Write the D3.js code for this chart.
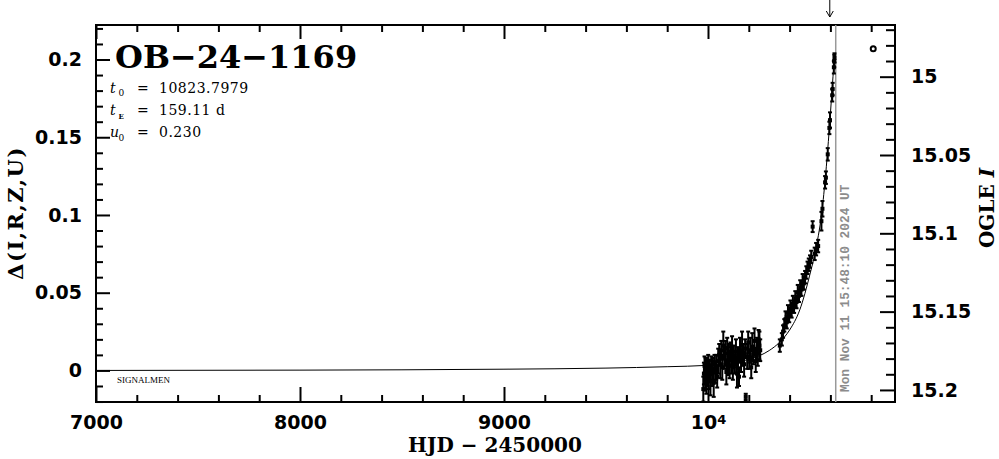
<!DOCTYPE html>
<html><head><meta charset="utf-8">
<script src="https://cdn.jsdelivr.net/npm/d3@7"></script>
<style>body{margin:0;background:#fff}svg{display:block}</style>
</head><body><svg id="c" width="999" height="459"></svg>
<script>
// ---- data ----
const hjd2023 = [9977, 9980, 9983, 9986, 9989, 9992, 9995, 9998, 10001, 10004, 10008, 10012, 10016, 10020, 10024, 10028, 10032, 10036, 10040, 10045, 10050, 10055, 10060, 10065, 10070, 10075, 10080, 10085, 10090, 10094, 10098, 10102, 10106, 10110, 10114, 10118, 10122, 10127, 10132, 10137, 10142, 10147, 10152, 10157, 10162, 10167, 10172, 10177, 10182, 10185, 10192, 10197, 10202, 10207, 10212, 10217, 10222, 10228, 10234, 10240, 10244, 10248, 10252, 10256];
const delta2023 = [-0.012, -0.002, 0.003, -0.005, 0.001, -0.006, 0.002, -0.003, 0.004, -0.004, 0.000, -0.007, 0.003, -0.002, 0.001, -0.008, 0.004, -0.001, 0.002, -0.004, 0.006, 0.010, 0.004, 0.013, 0.002, 0.016, 0.008, 0.011, -0.001, 0.014, 0.006, 0.010, 0.003, 0.012, 0.007, 0.015, 0.002, 0.009, 0.004, 0.012, -0.002, 0.008, -0.004, 0.013, 0.006, 0.016, 0.010, 0.004, 0.014, -0.017, 0.009, 0.018, 0.007, 0.013, 0.002, 0.015, 0.010, 0.019, 0.006, 0.014, 0.011, 0.020, 0.016, 0.013];
const err2023 = [0.008, 0.007, 0.006, 0.008, 0.007, 0.009, 0.006, 0.007, 0.006, 0.008, 0.007, 0.009, 0.006, 0.008, 0.007, 0.009, 0.006, 0.007, 0.008, 0.007, 0.008, 0.007, 0.009, 0.006, 0.008, 0.009, 0.007, 0.008, 0.008, 0.007, 0.009, 0.007, 0.008, 0.006, 0.009, 0.007, 0.008, 0.007, 0.006, 0.008, 0.009, 0.007, 0.006, 0.008, 0.007, 0.009, 0.007, 0.008, 0.006, 0.002, 0.008, 0.007, 0.006, 0.008, 0.007, 0.009, 0.006, 0.008, 0.007, 0.007, 0.008, 0.006, 0.009, 0.007];
const hjd2024 = [10352, 10362, 10368, 10374, 10380, 10386, 10392, 10398, 10404, 10410, 10416, 10422, 10428, 10434, 10440, 10446, 10452, 10458, 10464, 10470, 10476, 10482, 10488, 10494, 10500, 10506, 10513, 10523, 10530, 10540, 10556, 10561, 10574, 10578, 10587, 10595, 10598, 10609, 10611, 10617, 10619, 10620];
const delta2024 = [0.016, 0.020, 0.025, 0.029, 0.033, 0.031, 0.037, 0.035, 0.040, 0.038, 0.043, 0.041, 0.046, 0.044, 0.050, 0.048, 0.053, 0.052, 0.057, 0.056, 0.060, 0.063, 0.066, 0.068, 0.070, 0.073, 0.0925, 0.075, 0.078, 0.080, 0.096, 0.104, 0.121, 0.124, 0.139, 0.156, 0.161, 0.177, 0.181, 0.195, 0.199, 0.201];
const err2024 = [0.004, 0.004, 0.004, 0.004, 0.005, 0.004, 0.005, 0.004, 0.005, 0.004, 0.005, 0.004, 0.005, 0.004, 0.005, 0.004, 0.005, 0.004, 0.005, 0.004, 0.004, 0.004, 0.004, 0.004, 0.004, 0.004, 0.0035, 0.004, 0.004, 0.004, 0.006, 0.005, 0.004, 0.004, 0.004, 0.004, 0.005, 0.004, 0.004, 0.004, 0.004, 0.003];
const modelHjd = [7000, 8000, 9000, 9500, 9800, 10000, 10100, 10200, 10300, 10350, 10400, 10450, 10500, 10530, 10560, 10580, 10600, 10610, 10621];
const modelDelta = [0.0, 0.0002, 0.0008, 0.0015, 0.0024, 0.0033, 0.0045, 0.0072, 0.0128, 0.018, 0.026, 0.039, 0.062, 0.079, 0.104, 0.131, 0.165, 0.184, 0.203];
const xMajorTicks = [7000, 8000, 9000, 10000];
const xMajorLabels = ["7000", "8000", "9000", "10^4"];
const yLeftTicks = [0, 0.05, 0.1, 0.15, 0.2];
const yLeftLabels = ["0", "0.05", "0.1", "0.15", "0.2"];
const yRightTicks = [15, 15.05, 15.1, 15.15, 15.2];
const yRightLabels = ["15", "15.05", "15.1", "15.15", "15.2"];
const eventName = "OB\u221224\u22121169";
const paramSym = ["t", "t", "u"];
const paramSub = ["0", "E", "0"];
const paramVal = ["10823.7979", "159.11 d", "0.230"];
const nowHjd = 10626.16;
const nowLabel = "Mon Nov 11 15:48:10 2024 UT";
const arrowHjd = 10597;
const markHjd = 10810, markDelta = 0.207;

// ---- layout ----
const L = 96, R = 895, T = 25, B = 402;
const svg = d3.select("#c");
const x = d3.scaleLinear().domain([7000, 10916.7]).range([L, R]);
const yL = d3.scaleLinear().domain([-0.0203, 0.2222]).range([B, T]);
const yR = d3.scaleLinear().domain([15.2077, 14.967]).range([B, T]);

const tickFont = "'DejaVu Sans', sans-serif";
const serif = "'DejaVu Serif', serif";

function styleAxis(g) {
  g.select(".domain").remove();
  g.selectAll(".tick line").attr("stroke", "#000").attr("stroke-width", 2);
  g.selectAll("text").attr("font-family", tickFont).attr("font-weight", "bold")
    .attr("font-size", 19).attr("fill", "#000");
}

// minor ticks
const xMinor = d3.range(7000, 10917, 200).filter(v => v % 1000 !== 0);
const yLMinor = d3.range(-2, 23).map(i => i / 100).filter(v => Math.round(v * 100) % 5 !== 0);
const yRMinor = d3.range(1497, 1521).map(i => i / 100).filter(v => Math.round(v * 100) % 5 !== 0);

svg.append("g").attr("transform", `translate(0,${B})`)
  .call(d3.axisBottom(x).tickValues(xMinor).tickSize(-7).tickFormat("")).call(styleAxis);
svg.append("g").attr("transform", `translate(0,${T})`)
  .call(d3.axisTop(x).tickValues(xMinor).tickSize(-7).tickFormat("")).call(styleAxis);
svg.append("g").attr("transform", `translate(0,${T})`)
  .call(d3.axisTop(x).tickValues(xMajorTicks).tickSize(-14).tickFormat("")).call(styleAxis);
const gx = svg.append("g").attr("transform", `translate(0,${B})`)
  .call(d3.axisBottom(x).tickValues(xMajorTicks).tickSize(-15).tickPadding(14)
    .tickFormat((d, i) => xMajorLabels[i])).call(styleAxis);
gx.selectAll("text").each(function(d, i) {
  const s = xMajorLabels[i];
  if (s.includes("^")) {
    const [b, e] = s.split("^");
    const t = d3.select(this).text(null);
    t.append("tspan").text(b);
    t.append("tspan").attr("font-size", 13).attr("dy", "-0.45em").text(e);
  }
});

svg.append("g").attr("transform", `translate(${L},0)`)
  .call(d3.axisLeft(yL).tickValues(yLMinor).tickSize(-7).tickFormat("")).call(styleAxis);
svg.append("g").attr("transform", `translate(${L},0)`)
  .call(d3.axisLeft(yL).tickValues(yLeftTicks).tickSize(-14).tickPadding(14)
    .tickFormat((d, i) => yLeftLabels[i])).call(styleAxis);

svg.append("g").attr("transform", `translate(${R},0)`)
  .call(d3.axisRight(yR).tickValues(yRMinor).tickSize(-9).tickFormat("")).call(styleAxis);
svg.append("g").attr("transform", `translate(${R},0)`)
  .call(d3.axisRight(yR).tickValues(yRightTicks).tickSize(-15).tickPadding(16)
    .tickFormat((d, i) => yRightLabels[i])).call(styleAxis);

// frame
svg.append("rect").attr("x", L).attr("y", T).attr("width", R - L).attr("height", B - T)
  .attr("fill", "none").attr("stroke", "#000").attr("stroke-width", 2);

// current-date line
svg.append("line").attr("x1", x(nowHjd)).attr("x2", x(nowHjd)).attr("y1", T).attr("y2", B)
  .attr("stroke", "#999").attr("stroke-width", 1.5);
svg.append("text").attr("transform", `translate(${x(nowHjd) + 13},${B - 10}) rotate(-90)`)
  .attr("font-family", "'Liberation Mono', monospace").attr("font-weight", "bold")
  .attr("font-size", 12.8).attr("fill", "#8c8c8c").text(nowLabel);

// model curve
const model = modelHjd.map((h, i) => [h, modelDelta[i]]);
svg.append("path").datum(model)
  .attr("d", d3.line().x(d => x(d[0])).y(d => yL(d[1])).curve(d3.curveMonotoneX))
  .attr("fill", "none").attr("stroke", "#000").attr("stroke-width", 1);

// data with error bars
const pts = hjd2023.map((h, i) => ({h, d: delta2023[i], e: err2023[i]}))
  .concat(hjd2024.map((h, i) => ({h, d: delta2024[i], e: err2024[i]})));
const gp = svg.append("g").attr("stroke", "#000").attr("stroke-width", 2);
pts.forEach(p => {
  const cx = x(p.h), y0 = yL(p.d - p.e), y1 = yL(p.d + p.e);
  gp.append("line").attr("x1", cx).attr("x2", cx).attr("y1", y0).attr("y2", y1);
  gp.append("line").attr("x1", cx - 2).attr("x2", cx + 2).attr("y1", y0).attr("y2", y0);
  gp.append("line").attr("x1", cx - 2).attr("x2", cx + 2).attr("y1", y1).attr("y2", y1);
  gp.append("rect").attr("x", cx - 2).attr("y", yL(p.d) - 2).attr("width", 4).attr("height", 4)
    .attr("fill", "#000").attr("stroke", "none");
});

// arrow at top
const ax = x(arrowHjd);
svg.append("path").attr("d", `M${ax},0 L${ax},17 M${ax - 3.5},11 L${ax},17 L${ax + 3.5},11`)
  .attr("fill", "none").attr("stroke", "#000").attr("stroke-width", 1);
// small circle marker
svg.append("circle").attr("cx", x(markHjd)).attr("cy", yL(markDelta)).attr("r", 2.5)
  .attr("fill", "none").attr("stroke", "#000").attr("stroke-width", 2);

// title and parameters
svg.append("text").attr("x", 115).attr("y", 68).attr("font-family", serif).attr("font-weight", "bold")
  .attr("font-size", 32).attr("fill", "#000").text(eventName);
const baseY = [92.5, 115, 137.3];
paramSym.forEach((s, i) => {
  svg.append("text").attr("x", 110).attr("y", baseY[i]).attr("font-family", serif)
    .attr("font-style", "italic").attr("font-size", 14).text(s);
  svg.append("text").attr("x", 118.5).attr("y", baseY[i] + 3.5).attr("font-family", serif)
    .attr("font-size", paramSub[i] === "E" ? 7 : 9).attr("font-weight", paramSub[i] === "E" ? "bold" : "normal").text(paramSub[i]);
  svg.append("text").attr("x", 137).attr("y", baseY[i]).attr("font-family", serif)
    .attr("font-size", 14).text("=");
  svg.append("text").attr("x", 159).attr("y", baseY[i]).attr("font-family", serif)
    .attr("font-size", 14).attr("letter-spacing", 0.5).text(paramVal[i]);
});
svg.append("text").attr("x", 117).attr("y", 383).attr("font-family", "'Liberation Serif', serif")
  .attr("font-size", 9).text("SIGNALMEN");

// axis titles
svg.append("text").attr("x", 495).attr("y", 452).attr("text-anchor", "middle")
  .attr("font-family", serif).attr("font-weight", "bold").attr("font-size", 20)
  .attr("xml:space", "preserve").text("HJD \u2212 2450000");
svg.append("text").attr("transform", `translate(23,213) rotate(-90)`).attr("text-anchor", "middle")
  .attr("font-family", serif).attr("font-weight", "bold").attr("font-size", 21)
  .attr("letter-spacing", 1.5).text("\u0394(I,R,Z,U)");
const rt = svg.append("text").attr("transform", `translate(994,208) rotate(-90)`).attr("text-anchor", "middle")
  .attr("font-family", serif).attr("font-weight", "bold").attr("font-size", 20);
rt.append("tspan").text("OGLE ");
rt.append("tspan").attr("font-style", "italic").text("I");
</script></body></html>
